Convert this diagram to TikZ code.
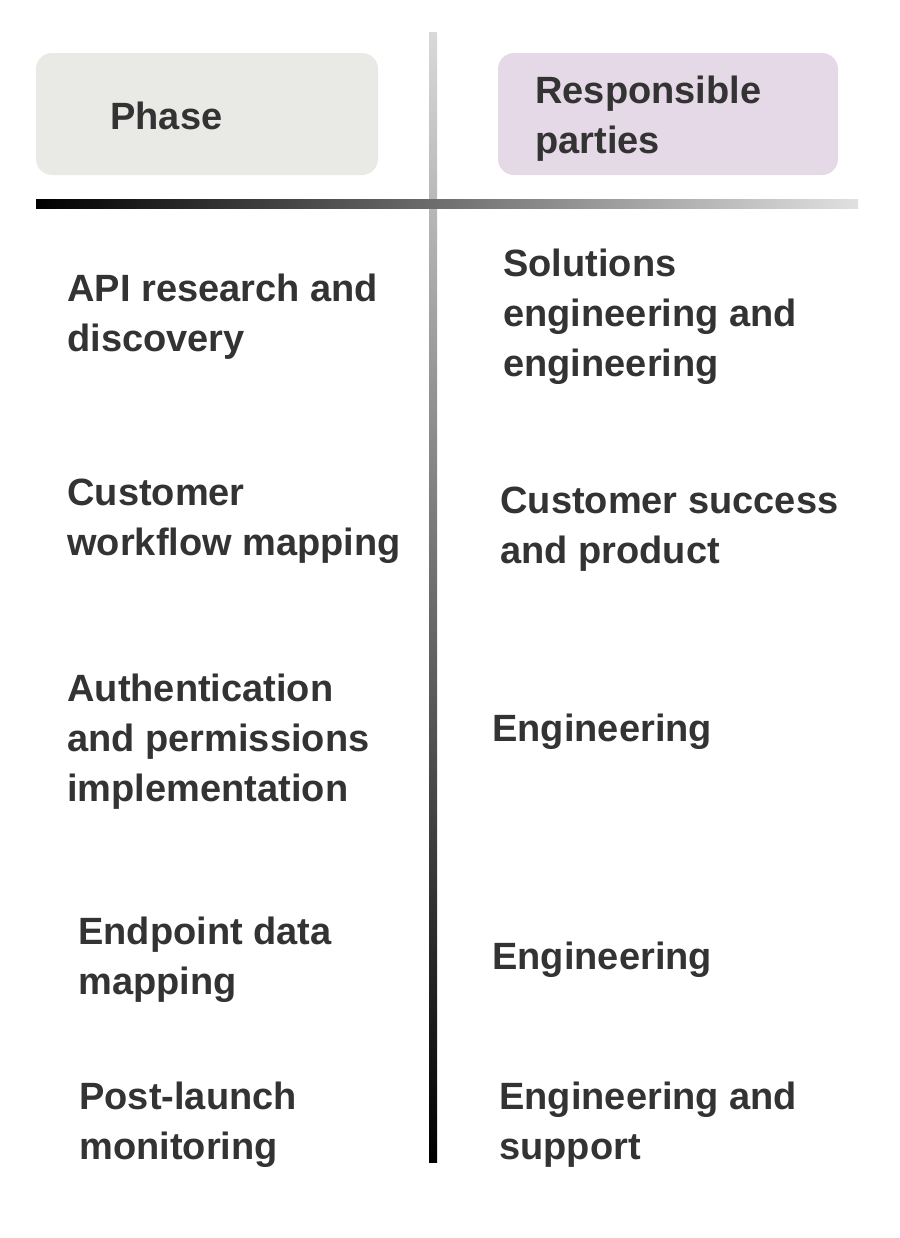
\documentclass[tikz,border=0pt]{standalone}
\usepackage{fontspec}
\setmainfont{Liberation Sans}
\begin{document}
\begin{tikzpicture}[x=0.5pt,y=-0.5pt,
  cell/.style={anchor=north west,inner sep=0pt,align=left,text=black!80,
    font=\bfseries\fontsize{19}{25}\selectfont},
  head/.style={rounded corners=8pt}]
\useasboundingbox (0,0) rectangle (900,1238);
% header boxes
\fill[head,fill={rgb,255:red,233;green,234;blue,230}] (36,53) rectangle (378,175);
\fill[head,fill={rgb,255:red,230;green,217;blue,231}] (498,53) rectangle (838,175);
% rules
\shade[top color=black!15,bottom color=black] (429,32) rectangle (437,1162);
\shade[left color=black,right color=black!12] (36,199) rectangle (858,208);
\node[cell] (phase) at (110,102) {Phase};
\node[cell] (resp) at (535,76) {Responsible\\parties};
% rows
\node[cell] (p1) at (67,274) {API research and\\discovery};
\node[cell] (r1) at (503,249) {Solutions\\engineering and\\engineering};
\node[cell] (p2) at (67,479) {Customer\\workflow mapping};
\node[cell] (r2) at (500,487) {Customer success\\and product};
\node[cell] (p3) at (67,674) {Authentication\\and permissions\\implementation};
\node[cell] (r3) at (492,714) {Engineering};
\node[cell] (p4) at (78,917) {Endpoint data\\mapping};
\node[cell] (r4) at (492,942) {Engineering};
\node[cell] (p5) at (79,1082) {Post-launch\\monitoring};
\node[cell] (r5) at (499,1082) {Engineering and\\support};
\end{tikzpicture}
\end{document}
